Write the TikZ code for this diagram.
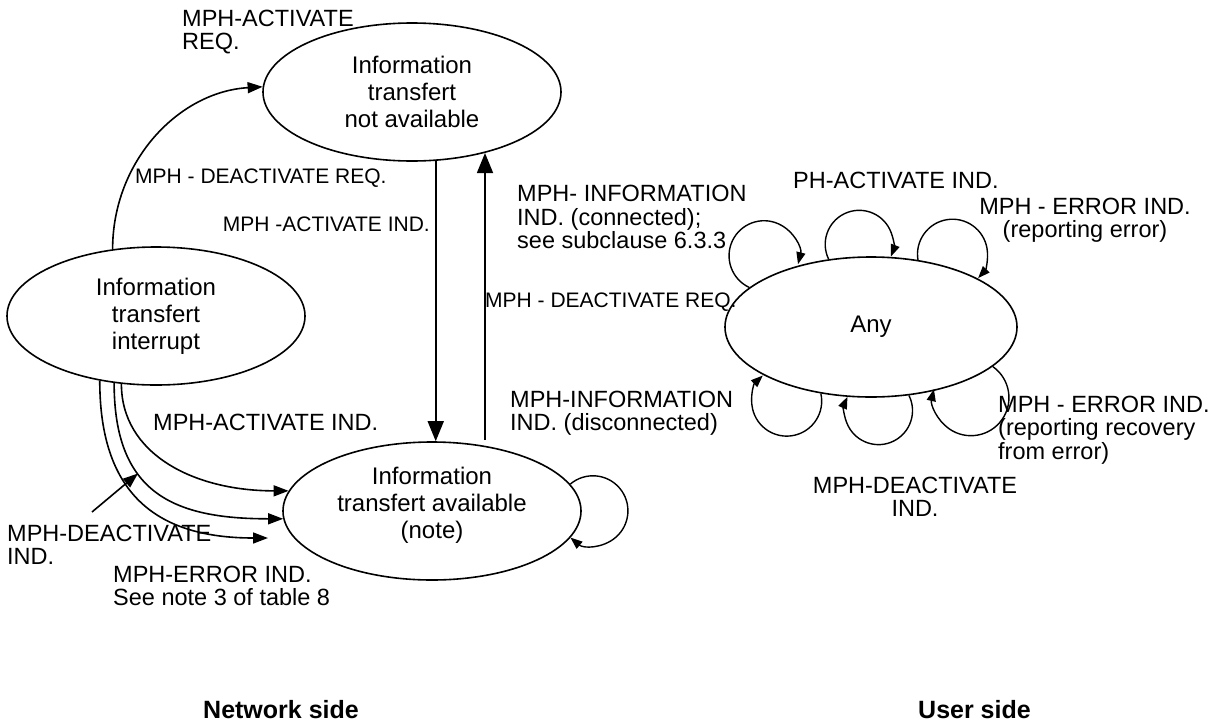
\documentclass[tikz,border=0pt]{standalone}
\usepackage{fontspec}
\setmainfont{Liberation Sans}
\usetikzlibrary{shapes.geometric,arrows.meta,calc}

\tikzset{
  state/.style={draw,ellipse,line width=1.6pt,minimum width=298pt,minimum height=138pt,inner sep=0pt,align=center,font=\fontsize{24}{27}\selectfont},
  lbl/.style={inner sep=0pt,align=left,font=\fontsize{23.5}{23.5}\selectfont},
  lblsmall/.style={inner sep=0pt,font=\fontsize{21}{22}\selectfont},
  side/.style={inner sep=0pt,font=\fontsize{25}{25}\selectfont\bfseries},
  arrbig/.style={line width=1.6pt,-{Triangle[length=20pt,width=16pt]}},
  arr/.style={line width=1.6pt,-{Triangle[length=15pt,width=11pt]}},
  arrloop/.style={line width=1.4pt,-{Triangle[length=12pt,width=9pt]}},
}

\begin{document}
\begin{tikzpicture}[x=1pt,y=1pt]
\useasboundingbox (0,0) rectangle (1213,-726);

\node[state] (na) at (412,-92) {Information\\transfert\\not available};
\node[state] (int) at (156,-316) {Information\\transfert\\interrupt};
\node[state] (av) at (432,-511) {Information\\transfert available\\(note)\rule[-16pt]{0pt}{0pt}};
\node[state,minimum width=292pt,minimum height=140pt] (any) at (871,-327) {Any};

\coordinate (upstart) at (485,-440);
\coordinate (cend) at (268,-538);
\coordinate (ptail) at (92,-512);

% network side
\draw[arr] (int.123.5) .. controls +(0,88) and +(-84,-5) .. (na.178.5);
\draw[arrbig] (na.-71.6) -- (na.-71.6 |- av.north);
\draw[arrbig] (upstart) -- (upstart |- na.-40);
\draw[arr] (int.243) .. controls +(0,-70) and +(-95,0) .. (av.172);
\draw[arr] (int.238) .. controls +(0,-110) and +(-110,0) .. (av.183) coordinate[pos=0.37] (bmark);
\draw[arr] (int.229.7) .. controls +(0,-110) and +(-115,0) .. (cend);
\draw[arr] (ptail) -- (bmark);
\draw[arrloop] (av.11) arc[start angle=130.4,end angle=-130,radius=35];

% user side
\draw[arrloop] (any.162.8) arc[start angle=245,end angle=-14,radius=35];
\draw[arrloop] (any.122.5) arc[start angle=206,end angle=-21,radius=34];
\draw[arrloop] (any.55.5) arc[start angle=189.4,end angle=-43,radius=35];
\draw[arrloop] (any.-18.2) arc[start angle=55,end angle=-193,radius=38];
\draw[arrloop] (any.-61.9) arc[start angle=26.6,end angle=-204,radius=34];
\draw[arrloop] (any.-127.7) arc[start angle=12.5,end angle=-227,radius=35];

\node[lbl,anchor=west] (lactreq) at (182,-32) {MPH-ACTIVATE\\REQ.};
\node[lblsmall,anchor=west] (ldeactreq) at (135,-178) {MPH - DEACTIVATE REQ.};
\node[lblsmall,anchor=east] (lactind) at (430,-224) {MPH -ACTIVATE IND.};
\node[lblsmall,anchor=west] (lupreq) at (485,-302) {MPH - DEACTIVATE REQ.};
\node[lbl,anchor=west] (lactind2) at (153,-422) {MPH-ACTIVATE IND.};
\node[lbl,anchor=west] (ldeactind) at (7,-545) {MPH-DEACTIVATE\\IND.};
\node[lbl,anchor=west] (lerrind) at (113,-586) {MPH-ERROR IND.\\See note 3 of table 8};

\node[lbl,anchor=west] (linfocon) at (517,-217) {MPH- INFORMATION\\IND. (connected);\\see subclause 6.3.3};
\node[lbl,anchor=west] (lphact) at (793,-180) {PH-ACTIVATE IND.};
\node[lbl,align=center] (lerr) at (1085,-220) {MPH - ERROR IND.\\(reporting error)};
\node[lbl,anchor=west] (lerrrec) at (998,-430) {MPH - ERROR IND.\\(reporting recovery\\from error)};
\node[lbl,anchor=west] (linfodis) at (510,-413) {MPH-INFORMATION\\IND. (disconnected)};
\node[lbl,align=center] (ldeact) at (915,-497) {MPH-DEACTIVATE\\IND.};

\node[side,anchor=west] (net) at (203,-710) {Network side};
\node[side,anchor=west] (user) at (918,-710) {User side};
\end{tikzpicture}
\end{document}
